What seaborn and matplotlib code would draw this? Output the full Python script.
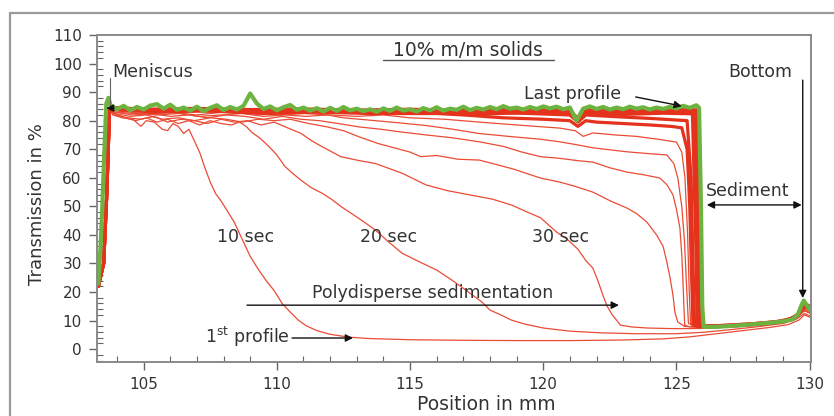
import numpy as np
import pandas as pd
import matplotlib
matplotlib.use("Agg")
import matplotlib.pyplot as plt
import seaborn as sns
from matplotlib.ticker import MultipleLocator
from matplotlib.patches import Rectangle

# ---------------- data ----------------
p01_x = [103.3, 103.5, 103.62, 103.72, 103.85, 104.2, 104.6, 104.9, 105.1, 105.4, 105.7, 105.9, 106.1, 106.3,
         106.5, 106.7, 106.9, 107.1, 107.3, 107.5, 107.7, 107.9, 108.1, 108.4, 108.7, 109.0, 109.3, 109.6,
         109.9, 110.2, 110.5, 110.8, 111.1, 111.5, 112.0, 112.7, 113.5, 115.0, 117.0, 119.0, 121.0, 123.0,
         124.5, 125.5, 126.5, 127.5, 128.5, 129.2, 129.6, 129.8, 130.05]
p01_y = [22, 30, 55, 84, 82, 81, 80.5, 78, 80, 79.5, 77, 76.5, 79, 78,
         75.5, 77, 73, 69, 63.5, 58.5, 54.5, 52, 49, 44.5, 38.5, 32.5, 28, 24,
         20.5, 16, 13, 10.2, 8.2, 6.5, 5.2, 4.2, 3.7, 3.3, 3.1, 3.0, 3.0, 3.2,
         3.6, 4.3, 5.4, 6.5, 7.6, 8.6, 10.2, 12.0, 11.0]

p02_x = [103.3, 103.5, 103.62, 103.72, 103.9, 104.3, 104.7, 105.1, 105.5, 105.9, 106.3, 106.7, 107.1, 107.5,
         107.9, 108.3, 108.6, 108.85, 109.05, 109.35, 109.7, 110.0, 110.3, 110.6, 110.9, 111.3, 111.7, 112.05,
         112.4, 112.8, 113.2, 113.7, 114.2, 114.7, 115.3, 116.0, 116.6, 117.25, 117.7, 118.0, 118.4, 118.8,
         119.3, 120.0, 121.0, 122.2, 123.5, 125.0, 126.0, 127.0, 128.0, 129.0, 129.5, 129.8, 130.05]
p02_y = [22, 30, 55, 84, 82.5, 81, 80, 81, 79.5, 80.5, 79, 80, 78.5, 80,
         79, 78.5, 79.5, 78, 76, 74, 71, 68, 64, 61.5, 59.2, 56.5, 54.6, 52.5,
         50, 47.5, 45, 41.7, 37.5, 33.6, 30.8, 27.7, 24, 19.6, 16.5, 13.7, 12, 10.2,
         8.8, 7.4, 6.3, 5.7, 5.4, 5.4, 5.9, 6.8, 7.8, 9.0, 10.5, 12.5, 11.5]

p03_x = [103.3, 103.5, 103.62, 103.72, 103.9, 104.4, 104.9, 105.4, 105.9, 106.4, 106.9, 107.4, 107.9, 108.4,
         108.9, 109.4, 109.9, 110.4, 110.9, 111.3, 111.7, 112.4, 113.1, 113.7, 114.7, 115.6, 116.4, 117.25,
         118.1, 118.8, 119.4, 119.9, 120.5, 120.9, 121.3, 121.6, 121.86, 122.05, 122.24, 122.4, 122.6, 122.9,
         123.3, 123.9, 124.8, 125.8, 126.6, 127.5, 128.5, 129.2, 129.55, 129.8, 130.05]
p03_y = [22, 30, 55, 84, 82, 81, 80.5, 81.5, 79.5, 80.5, 80, 79, 80.5, 79.5,
         80, 78.5, 79.5, 77.5, 75.6, 73, 70.9, 67.4, 66, 65, 61.6, 57.5, 55.5, 54,
         52.5, 50.5, 48, 46, 41, 38.5, 35, 31, 28.4, 24, 18.9, 15, 11.9, 8.4,
         7.8, 7.4, 7.2, 7.2, 7.6, 8.3, 9.2, 10.2, 11.5, 13.5, 12.5]

p04_x = [103.3, 103.5, 103.62, 103.72, 103.9, 104.5, 105.1, 105.7, 106.3, 106.9, 107.5, 108.1, 108.7, 109.3,
         109.9, 110.5, 111.2, 111.9, 112.5, 113.1, 113.8, 114.4, 115.0, 115.4, 116.0, 116.8, 117.6, 118.3,
         118.9, 119.9, 120.62, 121.2, 121.86, 122.5, 123.14, 123.5, 123.89, 124.26, 124.5, 124.64, 124.76,
         124.87, 124.94, 125.05, 125.3, 125.8, 126.5, 127.5, 128.5, 129.2, 129.55, 129.8, 130.05]
p04_y = [22, 30, 55, 84, 82.5, 81.5, 82, 80.5, 81, 80, 81, 80.5, 79.5, 80.5,
         80, 80.5, 79, 77.8, 76.5, 74.3, 72, 70.5, 69, 67.4, 67.8, 66.5, 66.2, 64.5,
         63, 59.9, 58.5, 57, 55, 52, 49.4, 47.5, 44.5, 39.9, 36, 30.5, 25,
         18.9, 13, 9.5, 8.0, 7.6, 7.8, 8.3, 9.0, 10.2, 11.5, 13.5, 12.5]

p05_x = [103.3, 103.5, 103.62, 103.72, 103.9, 104.6, 105.3, 106.0, 106.7, 107.4, 108.1, 108.8, 109.5, 110.2,
         110.9, 111.6, 112.3, 113.1, 113.9, 114.7, 115.6, 116.6, 117.6, 118.5, 119.2, 119.9, 120.62, 121.3,
         121.86, 122.5, 123.14, 123.8, 124.38, 124.65, 124.87, 125.0, 125.13, 125.2, 125.24, 125.28, 125.31,
         125.5, 126.2, 127.2, 128.2, 129.0, 129.5, 129.8, 130.05]
p05_y = [22, 30, 55, 84, 83, 82, 82.5, 81.5, 82, 81, 82, 81.5, 80.5, 81.5,
         80.5, 80, 79, 77.8, 77, 76, 75, 74, 72.6, 71, 69, 67.4, 66.8, 66,
         65.5, 63.5, 62, 61, 59.9, 57.5, 54, 49, 42.4, 33, 24.9, 15, 8.4,
         7.8, 7.9, 8.3, 8.9, 9.8, 11.0, 13.5, 12.5]

p06_x = [103.3, 103.5, 103.62, 103.72, 103.9, 104.7, 105.5, 106.3, 107.1, 107.9, 108.7, 109.5, 110.3, 111.1,
         111.9, 112.5, 113.1, 114.3, 115.6, 116.6, 117.6, 118.7, 119.9, 120.62, 121.3, 121.86, 122.5, 123.14,
         123.9, 124.64, 124.9, 125.05, 125.2, 125.3, 125.38, 125.45, 125.7, 126.5, 127.5, 128.5, 129.2,
         129.55, 129.8, 130.05]
p06_y = [22, 30, 55, 84, 83, 82.5, 82, 82.5, 81.5, 82, 82.5, 81.5, 82, 81.5,
         82, 81, 80.5, 79.5, 78.3, 77, 75.5, 74.5, 73.5, 72.6, 71.5, 70.5, 69.8, 69.1,
         68.5, 68, 65, 60, 50, 38, 22, 9, 7.9, 8.1, 8.6, 9.3, 10.4,
         11.8, 14, 13]

p07_x = [103.3, 103.5, 103.62, 103.72, 103.9, 105.0, 106.0, 107.0, 108.0, 109.0, 110.0, 111.0, 112.0, 113.0,
         114.0, 115.0, 116.3, 117.6, 119.0, 120.62, 121.2, 121.5, 121.86, 122.7, 123.5, 124.3, 125.0, 125.2,
         125.32, 125.42, 125.48, 125.53, 125.8, 126.6, 127.6, 128.6, 129.3, 129.6, 129.8, 130.05]
p07_y = [22, 30, 55, 84, 83.5, 82.5, 83, 82, 83, 82.5, 82, 82.5, 82, 81.5,
         82, 81, 80.5, 79.5, 78.5, 77.4, 76.5, 74.5, 75.7, 75, 74.5, 73.5, 72.5, 69,
         60, 40, 20, 9, 8, 8.2, 8.7, 9.4, 10.6, 12.3, 14.5, 13.5]

p08_x = [103.3, 103.5, 103.62, 103.72, 103.9, 105.5, 107.0, 108.5, 110.0, 111.5, 113.0, 114.5, 116.0, 117.0,
         118.5, 120.0, 121.0, 121.3, 121.6, 122.0, 123.0, 124.0, 124.8, 125.2, 125.4, 125.5, 125.57, 125.62,
         125.9, 126.7, 127.7, 128.7, 129.3, 129.6, 129.8, 130.05]
p08_y = [22, 30, 55, 84, 84, 83, 83.5, 83, 83.5, 83, 83, 82.5, 82.5, 82,
         81, 80.5, 80, 78, 80, 79.5, 79, 78.5, 78, 77.5, 70, 50, 25, 8.5,
         8.1, 8.3, 8.8, 9.5, 10.7, 12.5, 15, 14]

p09_x = [103.3, 103.5, 103.62, 103.72, 103.9, 106.0, 108.0, 110.0, 112.0, 114.0, 116.0, 118.0, 119.5, 121.0,
         121.3, 121.6, 122.5, 124.0, 125.4, 125.55, 125.62, 125.68, 126.0, 127.0, 128.0, 129.0, 129.5,
         129.8, 130.05]
p09_y = [22, 30, 55, 84, 84, 83.5, 83.5, 83.5, 83.5, 83, 83, 83, 82.5, 82,
         79.5, 82, 81.5, 80.8, 80, 60, 30, 8.3, 8, 8.4, 9, 9.9, 11.3,
         15, 14]

p10_x = [103.3, 103.5, 103.62, 103.72, 103.9, 105.5, 107.5, 109.5, 111.5, 113.5, 115.5, 117.5, 119.5, 121.0,
         121.3, 121.6, 123.0, 124.5, 125.6, 125.72, 125.78, 126.3, 127.3, 128.3, 129.1, 129.55, 129.8, 130.05]
p10_y = [22, 30, 55, 84, 84, 83, 83.5, 82.5, 83, 82.5, 82.8, 82.3, 82.8, 82.3,
         79.8, 82.5, 82.2, 82.6, 82.4, 40, 8.1, 8.0, 8.4, 9.0, 9.9, 11.6, 15.5, 14.2]

p11_x = [103.3, 103.5, 103.62, 103.72, 103.9, 105.0, 107.0, 109.0, 111.0, 113.0, 115.0, 117.0, 119.0, 121.0,
         121.3, 121.6, 123.0, 124.5, 125.65, 125.77, 125.83, 126.3, 127.3, 128.3, 129.1, 129.55, 129.8, 130.05]
p11_y = [22, 30, 55, 84, 84.2, 83.5, 83.8, 83.2, 83.6, 83.0, 83.3, 82.9, 83.4, 82.8,
         80.2, 83.0, 82.8, 83.1, 82.9, 40, 8.0, 7.9, 8.3, 8.9, 9.8, 11.8, 16, 14.5]

p12_x = [103.3, 103.5, 103.62, 103.72, 103.9, 105.5, 107.5, 109.5, 111.5, 113.5, 115.5, 117.5, 119.5, 121.0,
         121.3, 121.6, 123.0, 124.5, 125.7, 125.82, 125.88, 126.3, 127.3, 128.3, 129.1, 129.55, 129.8, 130.05]
p12_y = [22, 30, 55, 84, 84.5, 83.8, 84.0, 83.6, 83.9, 83.4, 83.7, 83.3, 83.8, 83.2,
         80.5, 83.4, 83.3, 83.6, 83.4, 40, 7.9, 7.9, 8.3, 8.9, 9.8, 11.8, 16, 14.5]

p13_x = [103.3, 103.5, 103.62, 103.72, 103.9, 105.0, 107.0, 109.0, 111.0, 113.0, 115.0, 117.0, 119.0, 121.0,
         121.3, 121.6, 123.0, 124.5, 125.75, 125.87, 125.93, 126.3, 127.3, 128.3, 129.1, 129.55, 129.8, 130.05]
p13_y = [22, 30, 55, 84, 84.6, 84.0, 84.3, 83.9, 84.1, 83.7, 84.0, 83.6, 84.0, 83.6,
         80.8, 83.8, 83.6, 83.9, 83.8, 40, 7.8, 7.8, 8.2, 8.8, 9.7, 11.9, 16.3, 14.6]

green_x = [103.3, 103.38, 103.45, 103.52, 103.6, 103.68,
           103.75, 104.0, 104.25, 104.5, 104.75, 105.0, 105.25, 105.5, 105.75, 106.0, 106.25, 106.5, 106.75,
           107.0, 107.25, 107.5, 107.75, 108.0, 108.25, 108.5, 108.75, 109.0, 109.25, 109.5, 109.75,
           110.0, 110.25, 110.5, 110.75, 111.0, 111.25, 111.5, 111.75, 112.0, 112.25, 112.5, 112.75,
           113.0, 113.25, 113.5, 113.75, 114.0, 114.25, 114.5, 114.75, 115.0, 115.25, 115.5, 115.75,
           116.0, 116.25, 116.5, 116.75, 117.0, 117.25, 117.5, 117.75, 118.0, 118.25, 118.5, 118.75,
           119.0, 119.25, 119.5, 119.75, 120.0, 120.25, 120.5, 120.75, 121.0, 121.25, 121.5, 121.75,
           122.0, 122.25, 122.5, 122.75, 123.0, 123.25, 123.5, 123.75, 124.0, 124.25, 124.5, 124.75,
           125.0, 125.25, 125.5, 125.75,
           125.85, 125.92, 125.97, 126.02, 126.5, 127.0, 127.5, 128.0, 128.5, 129.0, 129.35, 129.55,
           129.7, 129.78, 129.88, 130.0, 130.05]
green_y = [23, 35, 50, 68, 86, 88,
           85.5, 84.0, 85.2, 83.6, 84.8, 83.9, 85.3, 85.8, 84.2, 85.6, 83.8, 84.6, 83.5,
           84.9, 83.3, 84.5, 85.4, 83.7, 84.8, 83.9, 85.2, 89.5, 86.0, 84.1, 85.0,
           83.6, 84.7, 85.5, 83.8, 84.6, 83.5, 84.4, 83.2, 84.5, 83.4, 84.8, 83.6,
           84.2, 83.3, 84.0, 83.1, 84.3, 83.4, 84.6, 83.5, 84.0, 83.2, 84.4, 83.6,
           84.7, 83.5, 84.2, 83.8, 84.9, 83.7, 84.5, 83.9, 84.8, 84.0, 85.1, 84.2,
           84.6, 83.9, 84.8, 84.1, 85.0, 84.3, 84.9, 84.0, 84.6, 80.0, 84.2, 85.0,
           84.1, 84.8, 83.9, 84.6, 84.0, 84.9, 84.2, 84.7, 83.9, 84.6, 84.1, 84.8,
           84.3, 85.2, 84.5, 85.4,
           84.5, 50, 15, 7.8, 7.8, 8.1, 8.4, 8.8, 9.2, 9.7, 10.4, 12.0,
           15.5, 17.0, 15.5, 13.8, 14.5]

early_profiles = [(p01_x, p01_y), (p02_x, p02_y), (p03_x, p03_y), (p04_x, p04_y),
                  (p05_x, p05_y), (p06_x, p06_y), (p07_x, p07_y)]
late_profiles = [(p08_x, p08_y), (p09_x, p09_y), (p10_x, p10_y), (p11_x, p11_y),
                 (p12_x, p12_y), (p13_x, p13_y)]

x_ticks = [105, 110, 115, 120, 125, 130]
y_ticks = [0, 10, 20, 30, 40, 50, 60, 70, 80, 90, 100, 110]


def to_frame(profiles):
    rows = []
    for k, (xs, ys) in enumerate(profiles):
        for xv, yv in zip(xs, ys):
            rows.append((k, xv, yv))
    return pd.DataFrame(rows, columns=["profile", "position", "transmission"])


df_early = to_frame(early_profiles)
df_late = to_frame(late_profiles)
df_green = pd.DataFrame({"position": green_x, "transmission": green_y})

# ---------------- style ----------------
sns.set_style("ticks")
plt.rcParams["font.family"] = ["DejaVu Sans"]
TXT = "#333333"
GRID = "#8a8a8a"

fig = plt.figure(figsize=(8.34, 4.16), dpi=100)
fig.add_artist(Rectangle((10 / 834, -0.1), 1.2, 1.1 - 13 / 416, transform=fig.transFigure,
                         fill=False, ec="#9a9a9a", lw=1.6))
ax = fig.add_axes([0.1163, 0.1298, 0.8561, 0.7861])

sns.lineplot(data=df_early, x="position", y="transmission", units="profile", estimator=None,
             sort=False, color="#ea4b35", lw=0.9, ax=ax, legend=False)
sns.lineplot(data=df_late, x="position", y="transmission", units="profile", estimator=None,
             sort=False, color="#e5321d", lw=2.3, ax=ax, legend=False)
sns.lineplot(data=df_green, x="position", y="transmission", estimator=None, sort=False,
             color="#6db33f", lw=3.0, ax=ax, legend=False)

ax.set_xlim(103.25, 130.05)
ax.set_ylim(-4.5, 110)
ax.set_xticks(x_ticks)
ax.set_yticks(y_ticks)
ax.xaxis.set_minor_locator(MultipleLocator(1))
ax.yaxis.set_minor_locator(MultipleLocator(2))
ax.tick_params(which="major", direction="out", length=6, width=1.0, color="#666666",
               labelsize=11, labelcolor=TXT, pad=5, top=False, right=False)
ax.tick_params(which="minor", direction="in", length=4, width=0.8, color="#666666",
               top=False, right=False)
for s in ax.spines.values():
    s.set_visible(True)
    s.set_color(GRID)
    s.set_linewidth(1.4)

ax.set_xlabel("Position in mm", fontsize=13.5, color=TXT)
ax.set_ylabel("Transmission in %", fontsize=13, color=TXT)
ax.xaxis.set_label_coords(0.545, -0.1)
ax.yaxis.set_label_coords(-0.072, 0.483)

# ---------------- annotations ----------------
fs = 12.5
ax.text(117.17, 104.7, "10% m/m solids", fontsize=13.5, color=TXT, ha="center", va="center")
ax.plot([113.98, 120.4], [101.2, 101.2], color="#555555", lw=1.0)
ax.text(103.81, 97.0, "Meniscus", fontsize=fs, color=TXT, ha="left", va="center")
ax.plot([103.72, 103.72], [84.4, 95.0], color="#666666", lw=0.8)
ax.annotate("", xy=(103.6, 84.4), xytext=(103.9, 84.4),
            arrowprops=dict(arrowstyle="-|>", color="#111111", lw=0.8, mutation_scale=11,
                            shrinkA=0, shrinkB=0))
ax.text(119.27, 89.3, "Last profile", fontsize=fs, color=TXT, ha="left", va="center")
ax.annotate("", xy=(125.2, 85.1), xytext=(123.47, 88.3),
            arrowprops=dict(arrowstyle="-|>", color="#111111", lw=1.0, mutation_scale=11,
                            shrinkA=0, shrinkB=0))
ax.text(126.96, 96.9, "Bottom", fontsize=fs, color=TXT, ha="left", va="center")
ax.annotate("", xy=(129.74, 17.9), xytext=(129.74, 94.2),
            arrowprops=dict(arrowstyle="-|>", color="#111111", lw=1.0, mutation_scale=11,
                            shrinkA=0, shrinkB=0))
ax.text(126.1, 55.4, "Sediment", fontsize=fs, color=TXT, ha="left", va="center")
ax.annotate("", xy=(126.14, 50.5), xytext=(129.7, 50.5),
            arrowprops=dict(arrowstyle="<|-|>", color="#111111", lw=1.0, mutation_scale=11,
                            shrinkA=0, shrinkB=0))
ax.text(107.75, 39.4, "10 sec", fontsize=fs, color=TXT, ha="left", va="center")
ax.text(113.12, 39.4, "20 sec", fontsize=fs, color=TXT, ha="left", va="center")
ax.text(119.57, 39.4, "30 sec", fontsize=fs, color=TXT, ha="left", va="center")
ax.text(115.86, 19.6, "Polydisperse sedimentation", fontsize=fs, color=TXT, ha="center", va="center")
ax.annotate("", xy=(122.84, 15.4), xytext=(108.88, 15.4),
            arrowprops=dict(arrowstyle="-|>", color="#111111", lw=1.0, mutation_scale=11,
                            shrinkA=0, shrinkB=0))
ax.text(107.3, 4.2, "1$^{\\rm st}$ profile", fontsize=fs, color=TXT, ha="left", va="center")
ax.annotate("", xy=(112.86, 3.9), xytext=(110.57, 3.9),
            arrowprops=dict(arrowstyle="-|>", color="#111111", lw=1.0, mutation_scale=11,
                            shrinkA=0, shrinkB=0))

fig.savefig("out.png", dpi=100)
